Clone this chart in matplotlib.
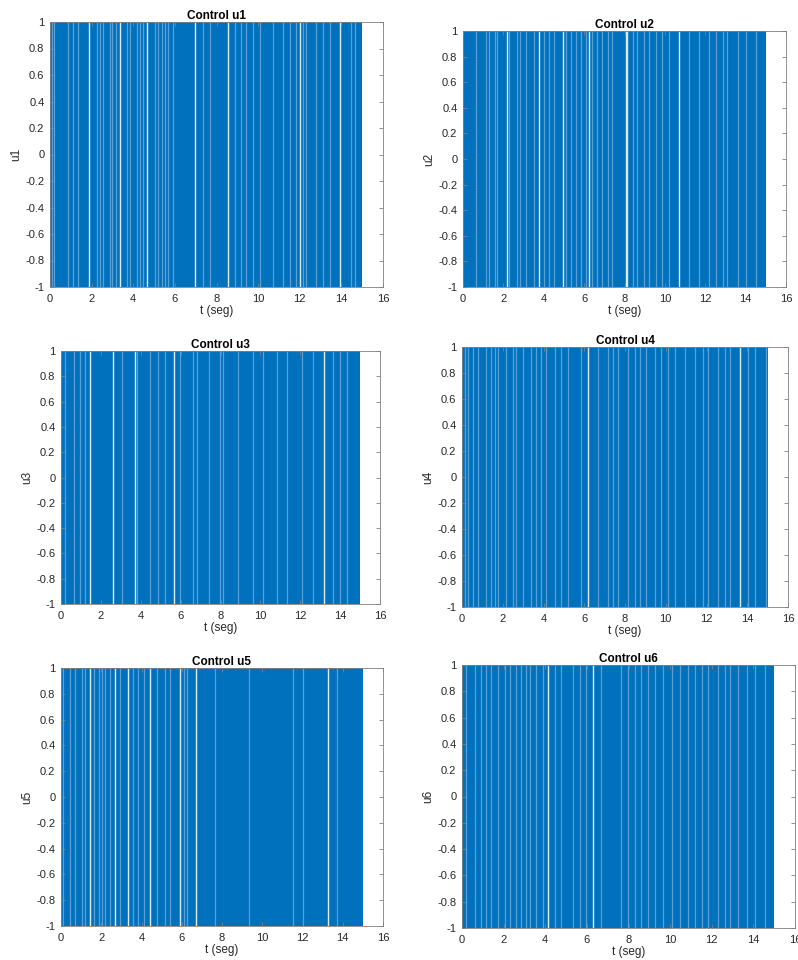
"""
Six bang-bang control signals u1..u6 (MATLAB-style panels)
"""
import matplotlib
matplotlib.use("Agg")
import matplotlib.pyplot as plt
import numpy as np

# time span of the dense switching, same for every control
t_span = [0.0, 15.0]

# clearly white stripes (signal held long enough to leave a gap)
bright_u1 = [1.89, 3.36, 4.64, 6.96, 8.56, 12.0, 13.92]
faint_u1 = [0.1, 0.2, 0.88, 1.12, 1.36, 2.24, 2.4, 2.56, 2.88, 3.0, 3.17, 3.68, 3.84,
            4.16, 4.32, 4.48, 5.04, 5.2, 5.36, 5.52, 5.68, 5.92, 7.36, 7.68, 8.88, 9.2,
            9.44, 9.76, 10.08, 10.72, 11.2, 11.52, 11.84, 12.16, 12.32, 12.8, 13.12,
            13.44, 14.48, 14.64]

bright_u2 = [2.2, 3.77, 4.93, 6.25, 8.05, 8.1, 10.7]
faint_u2 = [0.63, 1.16, 1.29, 1.58, 1.7, 2.28, 2.69, 2.82, 3.11, 3.52, 4.02, 4.26, 4.51,
            5.09, 5.34, 5.59, 5.83, 6.08, 6.41, 6.66, 6.91, 7.16, 7.4, 8.4, 8.64, 8.98,
            9.22, 9.55, 9.88, 10.21, 11.21, 11.7, 12.2, 12.53, 12.86, 13.1, 13.6, 14.02,
            14.51]

bright_u3 = [1.44, 2.62, 3.7, 5.65, 13.18]
faint_u3 = [0.22, 0.63, 0.97, 1.22, 3.06, 3.81, 4.47, 4.89, 5.23, 5.98, 6.64, 6.81, 7.4,
            7.98, 8.15, 8.9, 9.65, 10.15, 10.82, 11.32, 12.07, 12.65, 13.66, 13.99, 14.32]

bright_u4 = [6.19, 13.63]
faint_u4 = [0.13, 0.29, 0.54, 0.79, 1.19, 1.44, 1.6, 1.77, 2.18, 2.5, 2.67, 2.99, 3.4,
            3.65, 3.9, 4.14, 4.55, 4.88, 5.2, 5.86, 6.68, 7.17, 7.41, 7.66, 8.15, 8.48,
            8.72, 9.05, 9.46, 9.79, 10.12, 10.44, 10.93, 11.42, 11.83, 12.08, 12.57,
            12.9, 13.14, 14.04, 14.37, 14.94]

bright_u5 = [1.42, 2.69, 3.33, 4.43, 5.92, 6.69, 13.28]
faint_u5 = [0.1, 0.46, 0.71, 1.04, 1.21, 1.62, 1.87, 2.03, 2.2, 2.45, 2.94, 3.6, 3.85,
            4.1, 4.76, 5.17, 5.42, 6.12, 6.25, 7.65, 9.36, 11.54, 12.03, 13.69]

bright_u6 = [4.14, 6.3]
faint_u6 = [0.21, 0.61, 0.93, 1.17, 1.41, 1.73, 2.05, 2.29, 2.6, 2.85, 3.09, 3.25, 3.57,
            3.89, 4.46, 4.78, 5.34, 5.69, 5.98, 6.66, 7.66, 7.98, 8.3, 8.62, 8.95, 9.26,
            9.66, 10.07, 10.47, 10.87, 11.2, 11.51, 11.83, 12.31, 12.63, 12.87, 13.27,
            13.67, 14.07, 14.55]

titles = ["Control u1", "Control u2", "Control u3", "Control u4", "Control u5", "Control u6"]
ylabels = ["u1", "u2", "u3", "u4", "u5", "u6"]
brights = [bright_u1, bright_u2, bright_u3, bright_u4, bright_u5, bright_u6]
faints = [faint_u1, faint_u2, faint_u3, faint_u4, faint_u5, faint_u6]

yticks = [-1, -0.8, -0.6, -0.4, -0.2, 0, 0.2, 0.4, 0.6, 0.8, 1]
ytick_labels = ['-1', '-0.8', '-0.6', '-0.4', '-0.2', '0', '0.2', '0.4', '0.6', '0.8', '1']

# panel boxes in pixels (left, right, top, bottom) - the source is a collage
boxes = [(50, 383, 22, 287), (463, 786, 31, 287),
         (61, 380, 351, 604), (462, 788, 347, 607),
         (61, 383, 668, 926), (462, 795, 665, 928)]

W, H = 798, 960
plt.rcParams['font.family'] = ['Liberation Sans', 'DejaVu Sans']
fig = plt.figure(figsize=(W / 100, H / 100), dpi=100)

BLUE = '#0072BD'
FAINT = '#5AA0D8'
LIGHT = '#DCEBF7'
AXC = '#808080'
TXT = '#262626'

for k in range(6):
    l, r, t, b = boxes[k]
    ax = fig.add_axes([l / W, 1 - b / H, (r - l) / W, (b - t) / H])
    ax.fill_between(t_span, -1, 1, color=BLUE, lw=0)
    ax.vlines(faints[k], -1, 1, color=FAINT, lw=0.9)
    ax.vlines(brights[k], -1, 1, color=LIGHT, lw=1.0)
    ax.set_xlim(0, 16)
    ax.set_ylim(-1, 1)
    ax.set_xticks(np.arange(0, 17, 2))
    ax.set_yticks(yticks)
    ax.set_yticklabels(ytick_labels)
    ax.tick_params(direction='in', length=3, width=0.6, color=AXC, labelsize=8,
                   labelcolor=TXT, top=True, right=True)
    ax.tick_params(axis='x', pad=5)
    ax.tick_params(axis='y', pad=4)
    for s in ax.spines.values():
        s.set_color(AXC)
        s.set_linewidth(0.6)
    ax.set_title(titles[k], fontsize=8.5, fontweight='bold', color='black', pad=2)
    ax.set_xlabel('t (seg)', fontsize=8.5, color=TXT, labelpad=1)
    ax.set_ylabel(ylabels[k], fontsize=8.5, color=TXT, labelpad=2)

fig.savefig('out.png', dpi=100)
